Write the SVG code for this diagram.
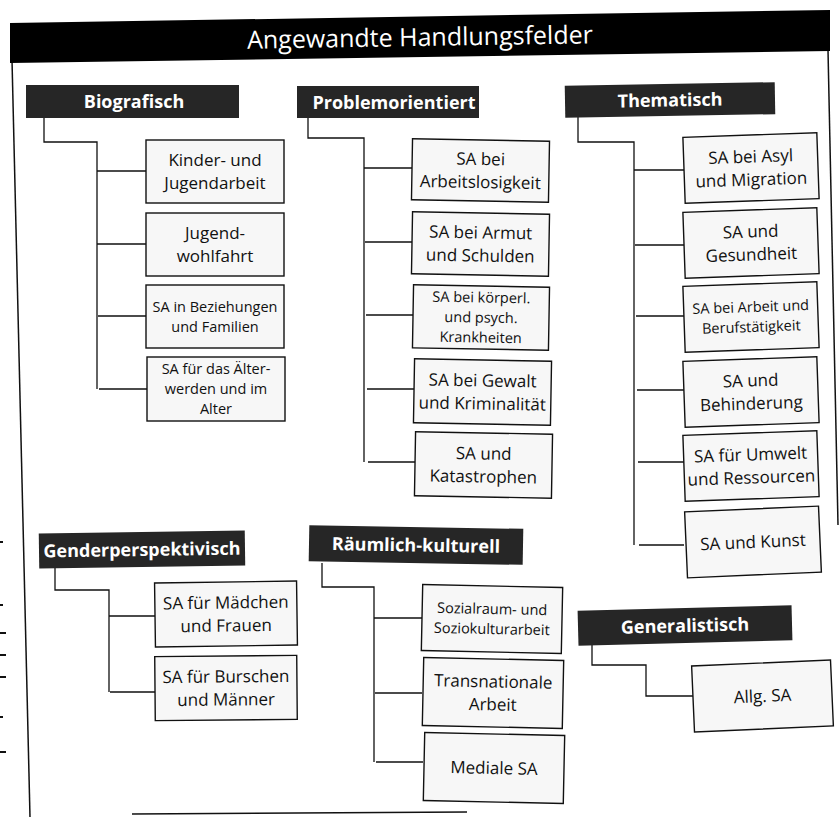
<svg xmlns="http://www.w3.org/2000/svg" width="840" height="817" viewBox="0 0 840 817">
<style>
.box{fill:#f7f7f7;stroke:#111;stroke-width:1.4}
.hdr{fill:#262626}
.t{font-family:"Open Sans","Noto Sans","DejaVu Sans",sans-serif;font-size:17px;fill:#111;text-anchor:middle}
.s{font-size:14.5px}
.h{font-family:"Open Sans","Noto Sans","DejaVu Sans",sans-serif;font-weight:bold;font-size:18px;fill:#fff;text-anchor:middle}
.conn{fill:none;stroke:#111;stroke-width:1.3}
.frame{fill:none;stroke:#111;stroke-width:1.5}
</style>
<rect width="840" height="817" fill="#fff"/>
<g id="frame">
<line class="frame" x1="12" y1="60" x2="30" y2="817"/>
<line class="frame" x1="828" y1="50" x2="838" y2="525"/>
<line class="frame" x1="132" y1="814" x2="467" y2="812"/>
<g stroke="#111" stroke-width="2">
<line x1="0" y1="542" x2="3" y2="542"/>
<line x1="0" y1="605" x2="3" y2="605"/>
<line x1="0" y1="633" x2="6" y2="633"/>
<line x1="0" y1="655" x2="6" y2="655"/>
<line x1="0" y1="677" x2="6" y2="677"/>
<line x1="0" y1="717" x2="3" y2="717"/>
<line x1="0" y1="752" x2="6" y2="752"/>
</g>
</g>
<g id="title">
<polygon points="10,23 830,10 830,51 10,63" fill="#000"/>
<text x="420" y="46" transform="rotate(-0.9 420 40)" font-family="'Open Sans','Noto Sans','DejaVu Sans',sans-serif" font-size="25" fill="#fff" text-anchor="middle">Angewandte Handlungsfelder</text>
</g>
<g id="connectors">
<path class="conn" d="M44 118 V142 H97 V389"/>
<path class="conn" d="M97 171 H146 M97 244 H146 M98 316 H146 M99 389 H147"/>
<path class="conn" d="M308 118 V138 H364 V462"/>
<path class="conn" d="M364 168 H412 M365 242 H412 M366 315 H413 M367 389 H414 M368 462 H415"/>
<path class="conn" d="M578 115 V142 H634 V545"/>
<path class="conn" d="M634 170 H684 M635 245 H684 M636 316 H684 M637 390 H684 M638 462 H684 M639 545 H684"/>
<path class="conn" d="M55 567 V590 H109 V692"/>
<path class="conn" d="M109 616 H155 M110 692 H155"/>
<path class="conn" d="M322 563 V587 H374 V762"/>
<path class="conn" d="M374 618 H422 M375 693 H422 M376 762 H423"/>
<path class="conn" d="M592 643 V665 H646 V696 H693"/>
</g>
<g id="h-biografisch"><rect class="hdr" x="26" y="85" width="213" height="33"/><text class="h" x="134" y="108">Biografisch</text></g>
<g id="h-problem"><rect class="hdr" x="297" y="86" width="182" height="32"/><text class="h" x="394" y="108.5">Problemorientiert</text></g>
<g id="h-thematisch" transform="rotate(-1 670 100)"><rect class="hdr" x="565" y="84" width="210" height="32"/><text class="h" x="670" y="106.5">Thematisch</text></g>
<g id="h-gender" transform="rotate(-0.8 142 550)"><rect class="hdr" x="39" y="532" width="206" height="35"/><text class="h" x="142" y="556">Genderperspektivisch</text></g>
<g id="h-raeumlich" transform="rotate(1 416 545)"><rect class="hdr" x="309" y="527" width="214" height="36"/><text class="h" x="416" y="551.5">Räumlich-kulturell</text></g>
<g id="h-general" transform="rotate(-1.5 685 625)"><rect class="hdr" x="578" y="608" width="214" height="35"/><text class="h" x="685" y="632">Generalistisch</text></g>

<g id="b-kinder"><rect class="box" x="146" y="140" width="138" height="63"/><text class="t" x="215" y="166">Kinder- und</text><text class="t" x="215" y="189">Jugendarbeit</text></g>
<g id="b-jugendwohlfahrt"><rect class="box" x="146" y="213" width="138" height="63"/><text class="t" x="215" y="239">Jugend-</text><text class="t" x="215" y="262">wohlfahrt</text></g>
<g id="b-beziehungen"><rect class="box" x="146" y="285" width="138" height="63"/><text class="t s" x="215" y="311.5">SA in Beziehungen</text><text class="t s" x="215" y="331.5">und Familien</text></g>
<g id="b-alter"><rect class="box" x="147" y="357" width="138" height="64"/><text class="t s" x="216" y="374">SA für das Älter-</text><text class="t s" x="216" y="394">werden und im</text><text class="t s" x="216" y="414">Alter</text></g>

<g id="b-arbeitslos" transform="rotate(1 480 170)"><rect class="box" x="412" y="140" width="137" height="61"/><text class="t" x="480.5" y="165">SA bei</text><text class="t" x="480.5" y="188">Arbeitslosigkeit</text></g>
<g id="b-armut" transform="rotate(1 480 244)"><rect class="box" x="412" y="213" width="137" height="62"/><text class="t" x="480.5" y="238.5">SA bei Armut</text><text class="t" x="480.5" y="261.5">und Schulden</text></g>
<g id="b-krankheit" transform="rotate(1 480 317)"><rect class="box" x="413" y="286" width="136" height="63"/><text class="t s" x="481" y="302.5">SA bei körperl.</text><text class="t s" x="481" y="322.5">und psych.</text><text class="t s" x="481" y="342.5">Krankheiten</text></g>
<g id="b-gewalt" transform="rotate(1 482 392)"><rect class="box" x="414" y="360" width="137" height="64"/><text class="t" x="482.5" y="386.5">SA bei Gewalt</text><text class="t" x="482.5" y="409.5">und Kriminalität</text></g>
<g id="b-katastrophen" transform="rotate(1 484 465)"><rect class="box" x="415" y="433" width="137" height="64"/><text class="t" x="483.5" y="459.5">SA und</text><text class="t" x="483.5" y="482.5">Katastrophen</text></g>

<g id="b-asyl" transform="rotate(-2 751 168)"><rect class="box" x="684" y="135" width="134" height="66"/><text class="t" x="751" y="162.5">SA bei Asyl</text><text class="t" x="751" y="185.5">und Migration</text></g>
<g id="b-gesundheit" transform="rotate(-2 751 243)"><rect class="box" x="684" y="210" width="134" height="66"/><text class="t" x="751" y="237.5">SA und</text><text class="t" x="751" y="260.5">Gesundheit</text></g>
<g id="b-arbeit" transform="rotate(-2 751 317)"><rect class="box" x="684" y="284" width="134" height="66"/><text class="t s" x="751" y="312">SA bei Arbeit und</text><text class="t s" x="751" y="332">Berufstätigkeit</text></g>
<g id="b-behinderung" transform="rotate(-2 751 392)"><rect class="box" x="684" y="359" width="134" height="66"/><text class="t" x="751" y="386.5">SA und</text><text class="t" x="751" y="409.5">Behinderung</text></g>
<g id="b-umwelt" transform="rotate(-2 751 466)"><rect class="box" x="684" y="433" width="134" height="66"/><text class="t" x="751" y="460.5">SA für Umwelt</text><text class="t" x="751" y="483.5">und Ressourcen</text></g>
<g id="b-kunst" transform="rotate(-2.5 753 542)"><rect class="box" x="686" y="509" width="134" height="66"/><text class="t" x="753" y="548">SA und Kunst</text></g>

<g id="b-maedchen" transform="rotate(-0.8 226 614)"><rect class="box" x="155" y="582" width="142" height="64"/><text class="t" x="226" y="608.5">SA für Mädchen</text><text class="t" x="226" y="631.5">und Frauen</text></g>
<g id="b-burschen" transform="rotate(-0.5 226 688)"><rect class="box" x="155" y="656" width="142" height="64"/><text class="t" x="226" y="682.5">SA für Burschen</text><text class="t" x="226" y="705.5">und Männer</text></g>

<g id="b-sozialraum" transform="rotate(1.2 492 619)"><rect class="box" x="422" y="586" width="140" height="66"/><text class="t s" x="492" y="614">Sozialraum- und</text><text class="t s" x="492" y="634">Soziokulturarbeit</text></g>
<g id="b-transnational" transform="rotate(1.2 493 693)"><rect class="box" x="423" y="659" width="140" height="68"/><text class="t" x="493" y="687.5">Transnationale</text><text class="t" x="493" y="710.5">Arbeit</text></g>
<g id="b-medial" transform="rotate(1.2 494 768)"><rect class="box" x="424" y="734" width="140" height="68"/><text class="t" x="494" y="774">Mediale SA</text></g>

<g id="b-allg" transform="rotate(-2.5 762 696)"><rect class="box" x="693" y="663" width="139" height="66"/><text class="t" x="762.5" y="702">Allg. SA</text></g>
</svg>
